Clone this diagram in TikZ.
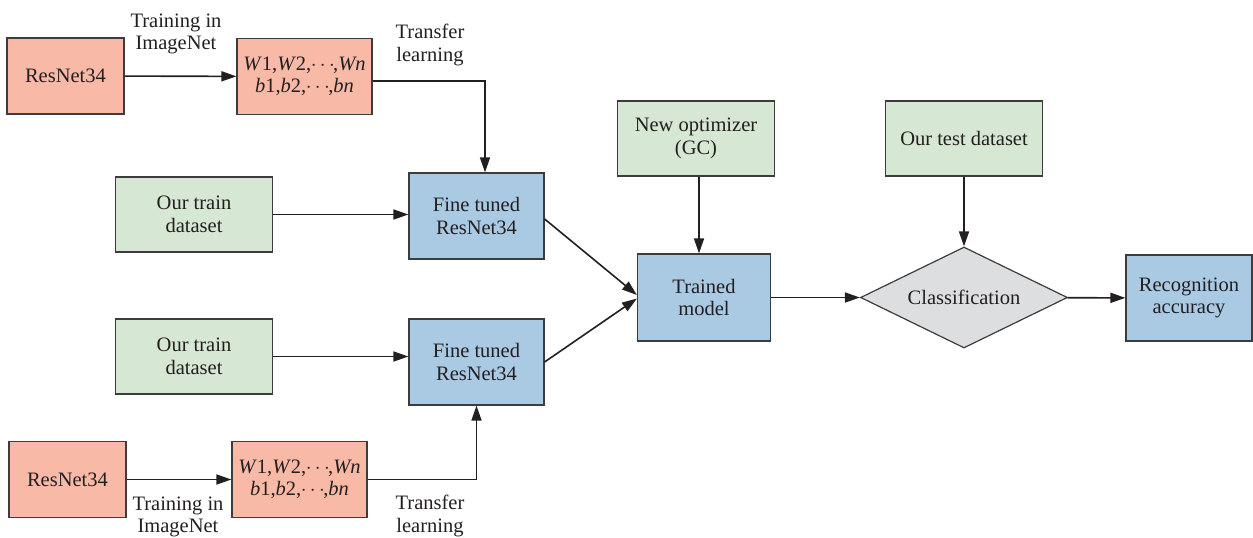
\documentclass[tikz,border=0pt]{standalone}
\usepackage{amsmath, amssymb}
\usepackage{fontspec}
\setmainfont{Liberation Serif}
\usepackage{tikz}
\usetikzlibrary{arrows.meta, shapes.geometric}

\definecolor{salmonbox}{RGB}{248,186,166}
\definecolor{greenbox}{RGB}{214,231,211}
\definecolor{bluebox}{RGB}{170,202,227}
\definecolor{greybox}{RGB}{221,222,224}
\definecolor{edgegrey}{RGB}{60,60,60}
\definecolor{txtgrey}{RGB}{35,31,32}

\newcommand{\tightdots}{$\mkern-0.5mu\cdots\mkern-1.5mu$}

\begin{document}
\begin{tikzpicture}[x=1pt, y=-1pt,
    every node/.style={font=\fontsize{20.5}{22.5}\selectfont, text=txtgrey, align=center},
    boxbase/.style={draw=edgegrey, line width=1.2pt, inner sep=0pt},
    netbox/.style={boxbase, fill=salmonbox, minimum width=117, minimum height=76},
    parbox/.style={boxbase, fill=salmonbox, minimum width=135, minimum height=76},
    databox/.style={boxbase, fill=greenbox, minimum width=157, minimum height=75},
    modelbox/.style={boxbase, fill=bluebox, minimum width=135, minimum height=86},
    flow/.style={draw=txtgrey, line width=1.6pt, -{Triangle[length=15pt, width=10pt]}}]
        \useasboundingbox (0,0) rectangle (1253,538);
        % Upper branch
        \node[netbox] (res1) at (65.5,76) {ResNet34};
        \node[parbox] (par1) at (304.5,76.5) {\textit{W}1,\textit{W}2,\tightdots,\textit{Wn}\\\textit{b}1,\textit{b}2,\tightdots,\textit{bn}};
        \node (lbltrain1) at (176,34) {Training in\\ImageNet};
        \node (lbltransfer1) at (430,45) {Transfer\\learning};
        \node[databox] (train1) at (194,214.5) {Our train\\dataset};
        \node[modelbox] (tune1) at (476.5,216) {Fine tuned\\ResNet34};
        % Lower branch
        \node[databox] (train2) at (194,356.5) {Our train\\dataset};
        \node[modelbox] (tune2) at (476.5,362) {Fine tuned\\ResNet34};
        \node[netbox] (res2) at (67.5,479.5) {ResNet34};
        \node[parbox] (par2) at (299.5,479.5) {\textit{W}1,\textit{W}2,\tightdots,\textit{Wn}\\\textit{b}1,\textit{b}2,\tightdots,\textit{bn}};
        \node (lbltrain2) at (178,517) {Training in\\ImageNet};
        \node (lbltransfer2) at (430,516) {Transfer\\learning};
        % Model and evaluation
        \node[databox] (optim) at (696,138.5) {New optimizer\\(GC)};
        \node[databox] (testset) at (964,138.5) {Our test dataset};
        \node[modelbox, minimum width=133, minimum height=87] (model) at (704,297.5) {Trained\\model};
        \node[boxbase, fill=greybox, diamond, aspect=2.05, minimum width=207, minimum height=101] (classify) at (964,297.5) {Classification};
        \node[modelbox, minimum width=126] (accuracy) at (1189,298) {Recognition\\accuracy};
        % Connectors
        \draw[flow] (res1) -- (par1);
        \draw[flow] ([yshift=-4.5]par1.east) -| ([xshift=8.5]tune1.north);
        \draw[flow] (train1.east) -- (train1.east -| tune1.west);
        \draw[flow] (train2.east) -- (train2.east -| tune2.west);
        \draw[flow] (res2) -- (par2);
        \draw[flow] (par2.east) -| (tune2.south);
        \draw[flow] ([yshift=-3]tune1.east) -- ([yshift=2.5]model.west);
        \draw[flow] (tune2.east) -- ([yshift=-1]model.west);
        \draw[flow] ([xshift=3]optim.south) -- ([xshift=3]optim.south |- model.north);
        \draw[flow] (testset) -- (classify.north);
        \draw[flow] (model) -- (classify);
        \draw[flow] (classify) -- (accuracy);
      \end{tikzpicture}
\end{document}
